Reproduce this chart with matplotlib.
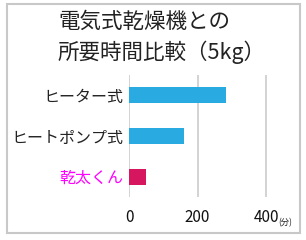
import matplotlib
matplotlib.use("Agg")
import matplotlib.pyplot as plt
from matplotlib.patches import Rectangle

plt.rcParams['font.family'] = ['Noto Sans CJK JP', 'DejaVu Sans']

categories = ["ヒーター式", "ヒートポンプ式", "乾太くん"]
values = [283, 160, 50]
bar_colors = ["#29abe2", "#29abe2", "#d6175f"]
label_colors = ["#222222", "#222222", "#ff00ff"]
xticks = [0, 200, 400]
title_lines = ["電気式乾燥機との", "所要時間比較（5kg）"]
unit = "(分)"

W, H = 306, 240
fig = plt.figure(figsize=(W/100, H/100), dpi=100)
fig.patch.set_facecolor("white")

# outer border
fig.patches.append(Rectangle((7/W, 7/H), 293/W, 229/H, transform=fig.transFigure,
                             fill=False, edgecolor="#c8c8c8", linewidth=1.5))

ax = fig.add_axes([129/W, 1-197/H, (266-129)/W*1.1, (197-75)/H])
y = list(range(len(categories)))
ax.barh(y, values, height=0.39, color=bar_colors, zorder=3)
ax.set_ylim(len(categories)-0.5, -0.5)
ax.set_xlim(0, 440)
ax.set_xticks(xticks)
ax.set_xticklabels([str(t) for t in xticks], fontsize=11)
ax.set_yticks(y)
ax.set_yticklabels(categories, fontsize=11.5)
for lbl, c in zip(ax.get_yticklabels(), label_colors):
    lbl.set_color(c)
ax.grid(axis='x', color="#cccccc", linewidth=1.2, zorder=0)
for s in ax.spines.values():
    s.set_visible(False)
ax.tick_params(axis='both', length=0)
ax.tick_params(axis='x', pad=9, colors="#111111")
ax.tick_params(axis='y', pad=4)

fig.text(58/W, 1-22/H, title_lines[0], fontsize=15.5, va='center', ha='left', color="#222222")
fig.text(58/W, 1-52/H, title_lines[1], fontsize=15.5, va='center', ha='left', color="#222222")
fig.text(285/W, 1-223/H, unit, fontsize=6, va='center', ha='center', color="#222222")

fig.savefig("out.png", dpi=100, facecolor="white")
